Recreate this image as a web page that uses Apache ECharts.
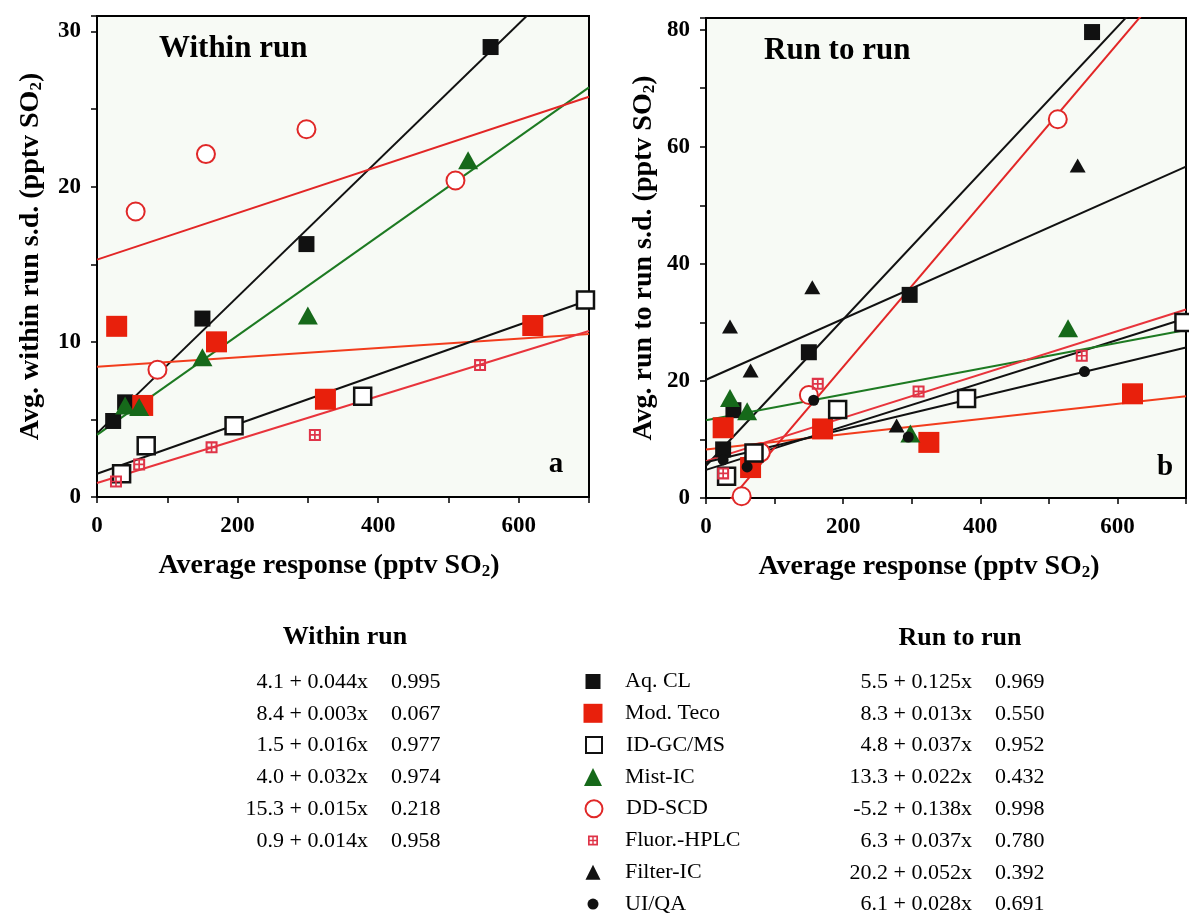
<!DOCTYPE html>
<html><head><meta charset="utf-8">
<script src="https://cdn.jsdelivr.net/npm/echarts@6/dist/echarts.min.js"></script>
<style>html,body{margin:0;padding:0;background:#fff}#c{width:1189px;height:917px}</style>
</head><body><div id="c"></div>
<script>
// ---------------- DATA ----------------
const methods = ['Aq. CL','Mod. Teco','ID-GC/MS','Mist-IC','DD-SCD','Fluor.-HPLC','Filter-IC','UI/QA'];

// Panel a: within run  [average response, avg within-run s.d.]
const withinAqCL   = [[23,4.9],[40,6.1],[150,11.5],[298,16.3],[560,29.0]];
const withinTeco   = [[28,11.0],[65,5.9],[170,10.0],[325,6.3],[620,11.05]];
const withinIDGC   = [[35,1.5],[70,3.3],[195,4.6],[378,6.5],[695,12.7]];
const withinMist   = [[40,5.9],[60,5.8],[150,9.0],[300,11.7],[528,21.7]];
const withinDDSCD  = [[55,18.4],[86,8.2],[155,22.1],[298,23.7],[510,20.4]];
const withinFluor  = [[27,1.0],[60,2.1],[163,3.2],[310,4.0],[545,8.5]];

// Panel b: run to run  [average response, avg run-to-run s.d.]
const runAqCL   = [[25,8.3],[40,15.0],[150,24.9],[297,34.7],[563,79.6]];
const runTeco   = [[25,12.0],[65,5.2],[170,11.8],[325,9.5],[622,17.8]];
const runIDGC   = [[30,3.7],[70,7.7],[192,15.1],[380,17.0],[697,30.0]];
const runMist   = [[35,17.1],[60,14.8],[298,11.0],[528,29.0]];
const runDDSCD  = [[52,0.3],[80,7.8],[150,17.6],[513,64.7]];
const runFluor  = [[25,4.2],[163,19.5],[310,18.2],[548,24.3]];
const runFilter = [[35,29.3],[65,21.8],[155,36.0],[278,12.4],[542,56.8]];
const runUIQA   = [[25,6.5],[60,5.3],[157,16.7],[295,10.4],[552,21.6]];

// Regression results (table)
const withinIntercept = [4.1, 8.4, 1.5, 4.0, 15.3, 0.9];
const withinSlope     = [0.044, 0.003, 0.016, 0.032, 0.015, 0.014];
const withinR         = ['0.995','0.067','0.977','0.974','0.218','0.958'];
const runIntercept = [5.5, 8.3, 4.8, 13.3, -5.2, 6.3, 20.2, 6.1];
const runSlope     = [0.125, 0.013, 0.037, 0.022, 0.138, 0.037, 0.052, 0.028];
const runR         = ['0.969','0.550','0.952','0.432','0.998','0.780','0.392','0.691'];

const xRange = [0, 700];
const withinYMax = 31;
const runYMax = 82;

// ---------------- STYLE ----------------
const SERIF = '"Liberation Serif","Times New Roman",Times,serif';
const BG = '#f7faf5';
const FLUOR_PATH = 'path://M0,0H10V10H0Z M1.7,1.7V4.3H4.3V1.7Z M5.7,1.7V4.3H8.3V1.7Z M1.7,5.7V8.3H4.3V5.7Z M5.7,5.7V8.3H8.3V5.7Z';
const markStyle = {
  'Aq. CL':      {symbol:'rect', size:16, item:{color:'#111'}},
  'Mod. Teco':   {symbol:'rect', size:21, item:{color:'#e8200c'}},
  'ID-GC/MS':    {symbol:'rect', size:17, item:{color:'#fff', borderColor:'#111', borderWidth:2.5}},
  'Mist-IC':     {symbol:'triangle', size:[20,18], item:{color:'#16691a'}},
  'DD-SCD':      {symbol:'circle', size:18, item:{color:'#fff', borderColor:'#e02828', borderWidth:2}},
  'Fluor.-HPLC': {symbol:FLUOR_PATH, size:12, item:{color:'#df3448'}},
  'Filter-IC':   {symbol:'triangle', size:[16,14], item:{color:'#111'}},
  'UI/QA':       {symbol:'circle', size:11, item:{color:'#111'}}
};
const lineColor = {
  'Aq. CL':'#111','Mod. Teco':'#f23c1c','ID-GC/MS':'#111','Mist-IC':'#1d7a22',
  'DD-SCD':'#e22626','Fluor.-HPLC':'#e8343c','Filter-IC':'#111','UI/QA':'#111'
};

function scatter(name, data, idx){
  const s = markStyle[name];
  return {type:'scatter', name, data, xAxisIndex:idx, yAxisIndex:idx,
    symbol:s.symbol, symbolSize:s.size, itemStyle:Object.assign({opacity:1}, s.item), z:3,
    emphasis:{disabled:true}};
}
function fit(name, a, b, idx){
  return {type:'line', name, xAxisIndex:idx, yAxisIndex:idx, symbol:'none', z:2, clip:true,
    data:[[xRange[0], a + b*xRange[0]], [xRange[1], a + b*xRange[1]]],
    lineStyle:{color:lineColor[name], width:2}, itemStyle:{color:lineColor[name]},
    emphasis:{disabled:true}, silent:true};
}

const withinSets = {'Aq. CL':withinAqCL,'Mod. Teco':withinTeco,'ID-GC/MS':withinIDGC,
  'Mist-IC':withinMist,'DD-SCD':withinDDSCD,'Fluor.-HPLC':withinFluor};
const runSets = {'Aq. CL':runAqCL,'Mod. Teco':runTeco,'ID-GC/MS':runIDGC,'Mist-IC':runMist,
  'DD-SCD':runDDSCD,'Fluor.-HPLC':runFluor,'Filter-IC':runFilter,'UI/QA':runUIQA};
const withinDrawOrder = ['Aq. CL','Mod. Teco','ID-GC/MS','DD-SCD','Fluor.-HPLC','Mist-IC'];
const runDrawOrder = ['DD-SCD','Aq. CL','Mod. Teco','ID-GC/MS','Fluor.-HPLC','Filter-IC','Mist-IC','UI/QA'];

const series = [];
withinDrawOrder.forEach(n => series.push(scatter(n, withinSets[n], 0)));
runDrawOrder.forEach(n => series.push(scatter(n, runSets[n], 1)));
methods.slice(0,6).forEach((n,i) => series.push(fit(n, withinIntercept[i], withinSlope[i], 0)));
methods.forEach((n,i) => series.push(fit(n, runIntercept[i], runSlope[i], 1)));

const tickLabel = {fontFamily:SERIF, fontWeight:'bold', fontSize:23, color:'#000'};
function nameStyle(pad){
  return {fontFamily:SERIF, fontWeight:'bold', fontSize:28, color:'#000', padding:pad,
    rich:{sub:{fontFamily:SERIF, fontWeight:'bold', fontSize:17, color:'#000', padding:[12,0,0,0]}}};
}
function xAxis(idx){
  return {type:'value', gridIndex:idx, min:xRange[0], max:xRange[1], interval:100,
    name:'Average response (pptv SO{sub|2})', nameLocation:'middle', nameGap:54,
    nameTextStyle:nameStyle(idx===0 ? [0,28,0,0] : [0,34,0,0]),
    axisLine:{show:true, lineStyle:{color:'#000', width:2}},
    axisTick:{show:true, inside:false, length:6, lineStyle:{color:'#000', width:1.5}},
    axisLabel:Object.assign({margin:18, formatter:v => (v % 200 === 0 ? String(v) : '')}, tickLabel),
    splitLine:{show:false}};
}
function yAxis(idx, max, interval, labelStep, title){
  return {type:'value', gridIndex:idx, min:0, max, interval,
    name:title, nameLocation:'middle', nameGap:idx===0?52:48, nameTextStyle:nameStyle(0),
    axisLine:{show:true, lineStyle:{color:'#000', width:2}},
    axisTick:{show:true, inside:false, length:6, lineStyle:{color:'#000', width:1.5}},
    axisLabel:Object.assign({margin:16, formatter:v => (v % labelStep === 0 ? String(v) : '')}, tickLabel),
    splitLine:{show:false}};
}

// table / legend
const rowY = i => 682 + 31.8*i;
const fmtEq = (a,b) => a.toFixed(1) + ' + ' + b.toFixed(3) + 'x';
const tableFont = '22px ' + SERIF;
const graphic = [];
function txt(x, y, text, font, align){
  graphic.push({type:'text', x, y, silent:true,
    style:{text, font, fill:'#000', align, verticalAlign:'middle', textAlign:align, textVerticalAlign:'middle'}});
}
txt(345, 637, 'Within run', 'bold 26px ' + SERIF, 'center');
txt(960, 638, 'Run to run', 'bold 26px ' + SERIF, 'center');
withinIntercept.forEach((a,i) => { txt(368, rowY(i), fmtEq(a, withinSlope[i]), tableFont, 'right'); txt(391, rowY(i), withinR[i], tableFont, 'left'); });
runIntercept.forEach((a,i) => { txt(972, rowY(i), fmtEq(a, runSlope[i]), tableFont, 'right'); txt(995, rowY(i), runR[i], tableFont, 'left'); });
// panel labels
txt(159, 49, 'Within run', 'bold 31px ' + SERIF, 'left');
txt(764, 51, 'Run to run', 'bold 31px ' + SERIF, 'left');
txt(556, 465, 'a', 'bold 29px ' + SERIF, 'center');
txt(1165, 468, 'b', 'bold 29px ' + SERIF, 'center');

const legendIcon = [15, 19, 16, 18, 17, 10, 15, 11];
const legend = methods.map((m,i) => ({
  data:[m], orient:'vertical', left: 593 - legendIcon[i]/2, top: rowY(i) - 11.5, padding:0,
  itemWidth:legendIcon[i], itemHeight:legendIcon[i], selectedMode:false,
  textStyle:{fontFamily:SERIF, fontSize:22, color:'#000', padding:[0,0,0,27 - legendIcon[i]/2]}
}));

const option = {
  animation:false,
  backgroundColor:'#fff',
  grid:[
    {left:97, top:16, width:492, height:481, show:true, backgroundColor:BG, borderColor:'#000', borderWidth:2, containLabel:false},
    {left:706, top:18, width:489, height:480, show:true, backgroundColor:BG, borderColor:'#000', borderWidth:2, containLabel:false}
  ],
  xAxis:[xAxis(0), xAxis(1)],
  yAxis:[
    yAxis(0, withinYMax, 5, 10, 'Avg. within run s.d. (pptv SO{sub|2})'),
    yAxis(1, runYMax, 10, 20, 'Avg. run to run s.d. (pptv SO{sub|2})')
  ],
  legend,
  graphic,
  series
};
const chart = echarts.init(document.getElementById('c'), null, {renderer:'canvas'});
chart.setOption(option);
</script></body></html>
